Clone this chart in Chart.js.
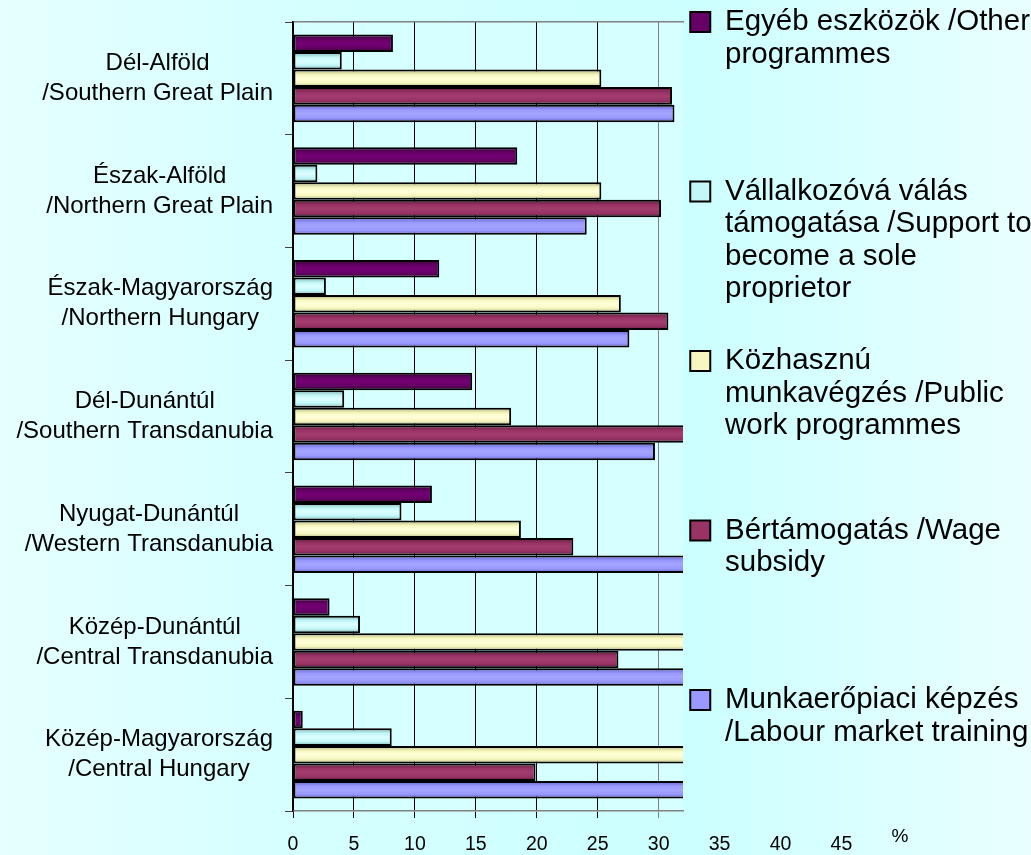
<!DOCTYPE html>
<html>
<head>
<meta charset="utf-8">
<script src="https://cdn.jsdelivr.net/npm/chart.js@4.4.1/dist/chart.umd.min.js"></script>
<style>
    html, body { margin: 0; padding: 0; }
    body {
        width: 1031px;
        height: 855px;
        overflow: hidden;
        background: linear-gradient(to right, #e6ffff 0%, #d6ffff 27%, #ccffff 67%, #e9ffff 100%);
    }
    #wrap { position: relative; width: 1031px; height: 855px; }
</style>
</head>
<body>
<div id="wrap"><canvas id="regionChart" width="1031" height="855"></canvas></div>
<script>
const FONT = '"Liberation Sans", Arial, sans-serif';

// regions, top to bottom
const REGIONS = [
    ['Dél-Alföld', '/Southern Great Plain'],
    ['Észak-Alföld', '/Northern Great Plain'],
    ['Észak-Magyarország', '/Northern Hungary'],
    ['Dél-Dunántúl', '/Southern Transdanubia'],
    ['Nyugat-Dunántúl', '/Western Transdanubia'],
    ['Közép-Dunántúl', '/Central Transdanubia'],
    ['Közép-Magyarország', '/Central Hungary']
];

// legend texts, line by line as in the original
const SERIES_NAMES = [
    ['Egyéb eszközök /Other', 'programmes'],
    ['Vállalkozóvá válás', 'támogatása /Support to', 'become a sole', 'proprietor'],
    ['Közhasznú', 'munkavégzés /Public', 'work programmes'],
    ['Bértámogatás /Wage', 'subsidy'],
    ['Munkaerőpiaci képzés', '/Labour market training']
];

// % values per region (bars past the frame are cut off in the picture, estimated)
const OTHER      = [8.2, 18.4, 12.0, 14.7, 11.4, 3.0, 0.8];
const SOLE_PROP  = [4.0, 2.0, 2.7, 4.2, 8.9, 5.5, 8.1];
const PUBLIC     = [25.3, 25.3, 26.9, 17.9, 18.7, 34.5, 36.0];
const WAGE       = [31.1, 30.2, 30.8, 33.5, 23.0, 26.7, 19.9];
const TRAINING   = [31.3, 24.1, 27.6, 29.7, 38.0, 41.0, 44.0];

const X_TICKS = [0, 5, 10, 15, 20, 25, 30, 35, 40, 45];

const BASE_COLORS  = ['#660066', '#c4f7f7', '#f7f7c2', '#993366', '#9999ff'];
const LIGHT_COLORS = ['#740074', '#dcffff', '#ffffd8', '#a33d70', '#a4a4ff'];
const DARK_COLORS  = ['#330033', '#7fb3b3', '#b3b37a', '#5e1d3b', '#6060c0'];

const plotBackground = {
    id: 'plotBackground',
    beforeDraw(chart)
    {
        const { ctx, chartArea } = chart;
        ctx.save();
        ctx.fillStyle = '#d6ffff';
        ctx.fillRect(chartArea.left, chartArea.top, chartArea.right - chartArea.left, chartArea.bottom - chartArea.top);
        ctx.restore();
    }
};

// excel-like shading across every bar
const barShade = {
    id: 'barShade',
    beforeDatasetsDraw(chart)
    {
        const ctx = chart.ctx;

        chart.data.datasets.forEach((ds, i) => {
            chart.getDatasetMeta(i).data.forEach(bar => {
                const top = bar.y - bar.height / 2;
                const g = ctx.createLinearGradient(0, top, 0, top + bar.height);

                g.addColorStop(0, DARK_COLORS[i]);
                g.addColorStop(0.3, BASE_COLORS[i]);
                g.addColorStop(0.5, LIGHT_COLORS[i]);
                g.addColorStop(0.75, BASE_COLORS[i]);
                g.addColorStop(1, DARK_COLORS[i]);

                bar.options = Object.assign({}, bar.options, { backgroundColor: g });
            });
        });
    }
};

// axis texts: region names right-aligned as blocks, x labels run on under the legend
const axisTexts = {
    id: 'axisTexts',
    afterDraw(chart)
    {
        const { ctx, chartArea } = chart;
        const x = chart.scales.x;
        const y = chart.scales.y;

        ctx.save();
        ctx.fillStyle = '#000';
        ctx.textBaseline = 'middle';
        ctx.textAlign = 'center';

        ctx.font = `24px ${FONT}`;
        REGIONS.forEach((lines, i) => {
            const yc = y.getPixelForValue(i);
            const w = Math.max(...lines.map(l => ctx.measureText(l).width));
            const xc = y.right - 20 - w / 2;

            lines.forEach((l, k) => ctx.fillText(l, xc, yc + (k - (lines.length - 1) / 2) * 30));
        });

        ctx.font = `19.5px ${FONT}`;
        X_TICKS.forEach(v => ctx.fillText(String(v), x.getPixelForValue(v), chartArea.bottom + 34));

        ctx.font = `19px ${FONT}`;
        ctx.fillText('%', x.getPixelForValue(49.8), chartArea.bottom + 26);

        ctx.restore();
    }
};

function makeDataset(i, values)
{
    return {
        label: SERIES_NAMES[i].join(' '),
        data: values,
        backgroundColor: BASE_COLORS[i],
        borderColor: '#000',
        borderWidth: 2,
        borderSkipped: false,
        categoryPercentage: 0.777,
        barPercentage: 1.0
    };
}

function padLines(lines, i)
{
    // keep every legend entry in an equal slot
    if (i === SERIES_NAMES.length - 1) return lines;

    const out = lines.slice();
    while (out.length < 5) out.push('');
    return out;
}

const chartCtx = document.getElementById('regionChart').getContext('2d');

new Chart(chartCtx, {
    type: 'bar',
    data: {
        labels: REGIONS.map(r => r.join(' ')),
        datasets: [
            makeDataset(0, OTHER),
            makeDataset(1, SOLE_PROP),
            makeDataset(2, PUBLIC),
            makeDataset(3, WAGE),
            makeDataset(4, TRAINING)
        ]
    },
    options: {
        indexAxis: 'y',
        responsive: false,
        animation: false,
        layout: { padding: 0 },
        plugins: {
            tooltip: { enabled: false },
            legend: {
                position: 'right',
                align: 'start',
                maxWidth: 348,
                labels: {
                    color: '#000',
                    font: { family: FONT, size: 29.5, lineHeight: 1.1 },
                    boxWidth: 20,
                    boxHeight: 20,
                    padding: 7.25,
                    generateLabels: () => SERIES_NAMES.map((lines, i) => ({
                        text: padLines(lines, i),
                        fillStyle: BASE_COLORS[i],
                        strokeStyle: '#000',
                        lineWidth: 2,
                        datasetIndex: i,
                        hidden: false
                    }))
                }
            }
        },
        scales: {
            x: {
                type: 'linear',
                position: 'bottom',
                min: 0,
                max: 32,
                ticks: { display: false, stepSize: 5, includeBounds: false },
                grid: {
                    color: c => (c.tick && c.tick.value === 30) ? '#808080' : '#000',
                    lineWidth: 1,
                    drawTicks: true,
                    tickLength: 7
                },
                border: { color: '#808080', width: 1.5 },
                afterFit: s => { s.height = 44; }
            },
            xTop: {
                type: 'linear',
                position: 'top',
                min: 0,
                max: 32,
                ticks: { display: false },
                grid: { display: false },
                border: { display: true, color: '#808080', width: 1.5 },
                afterFit: s => { s.height = 22; }
            },
            y: {
                type: 'category',
                offset: true,
                ticks: { display: false },
                grid: {
                    offset: true,
                    drawOnChartArea: false,
                    drawTicks: true,
                    tickLength: 8,
                    color: '#404040'
                },
                border: { color: '#000', width: 1.5 },
                afterFit: s => { s.width = 293; }
            }
        }
    },
    plugins: [plotBackground, barShade, axisTexts]
});
</script>
</body>
</html>
